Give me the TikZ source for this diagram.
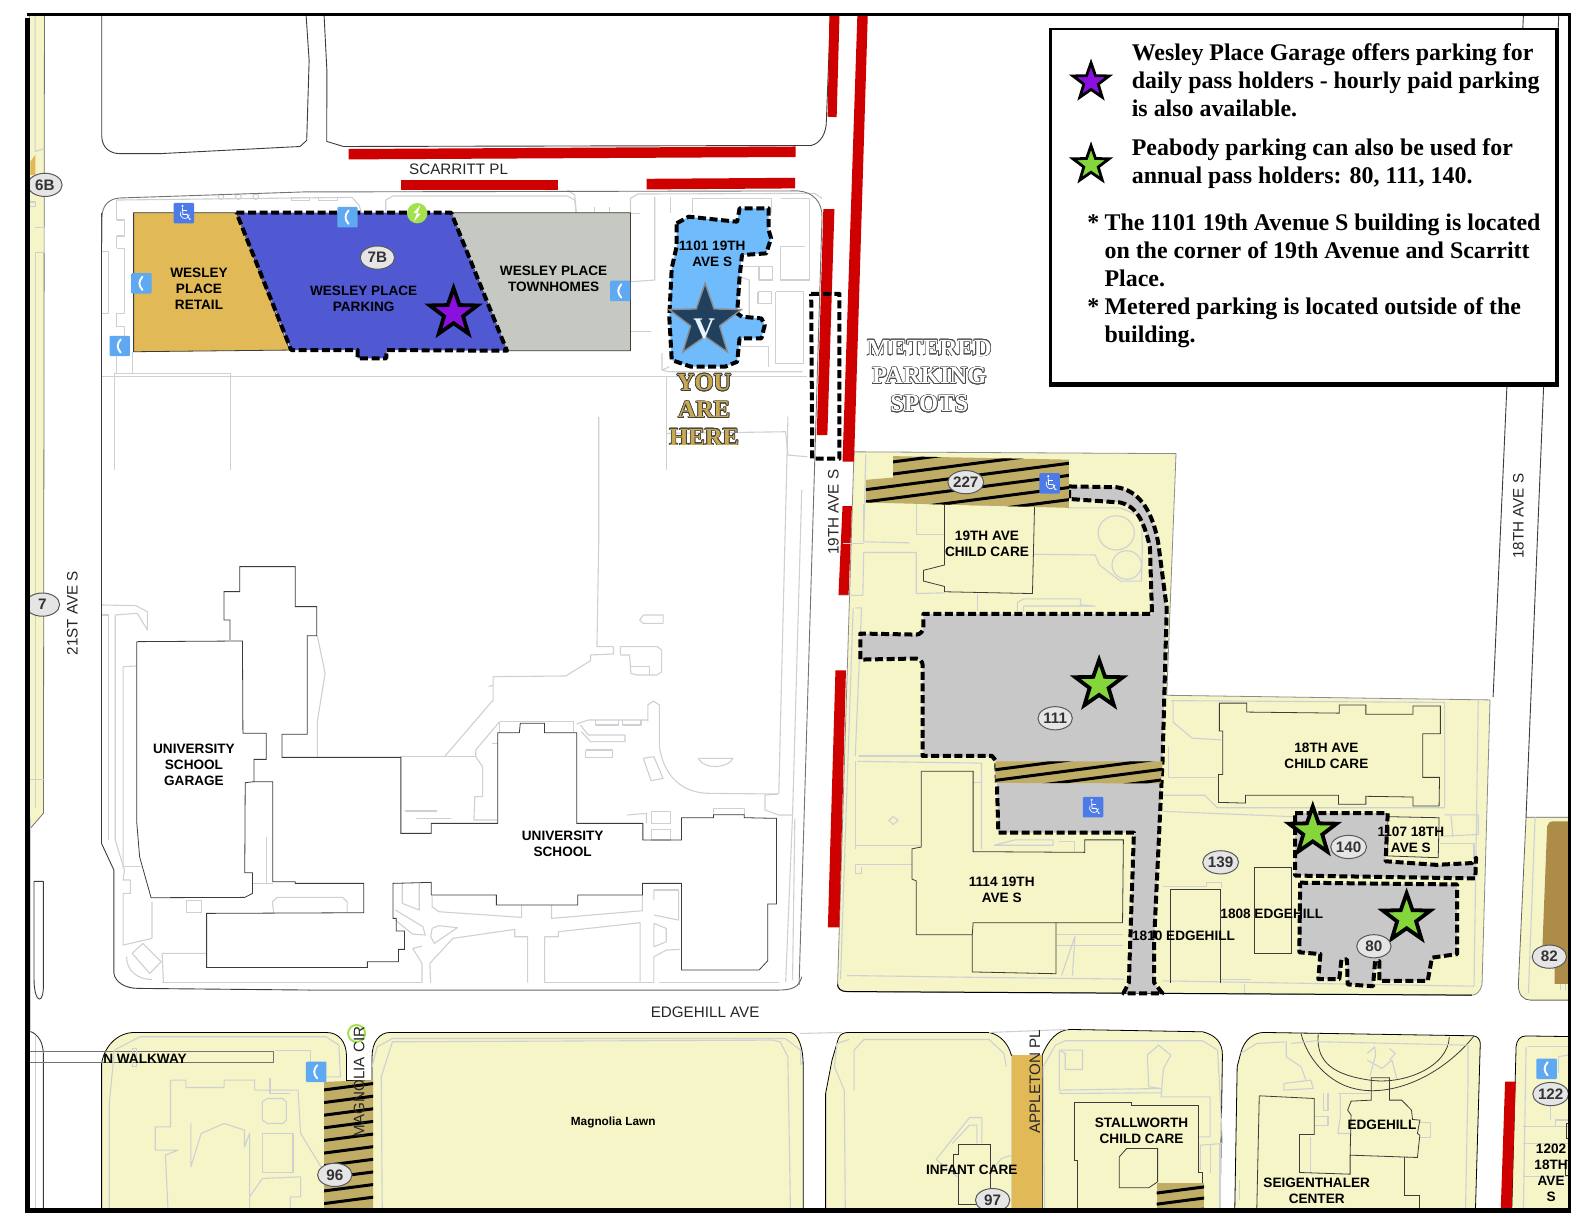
\documentclass[tikz,border=0pt]{standalone}
\usepackage{fontspec}
\usepackage{contour}
\setmainfont{Liberation Sans}
\newfontfamily\lserif{Liberation Serif}
\usetikzlibrary{shapes.geometric}
\definecolor{cream}{HTML}{F5F5C8}
\definecolor{lotgray}{HTML}{C8C8C8}
\definecolor{redbar}{HTML}{CE0000}
\definecolor{tanhatch}{HTML}{BFAD66}
\definecolor{gold}{HTML}{E2B957}
\definecolor{parkblue}{HTML}{5059D2}
\definecolor{townh}{HTML}{C6C9C2}
\definecolor{lightblue}{HTML}{6FBBFB}
\definecolor{navy}{HTML}{21405E}
\definecolor{phoneblue}{HTML}{5FA8F2}
\definecolor{wheelblue}{HTML}{4C7BE8}
\definecolor{boltgreen}{HTML}{A5E04E}
\definecolor{stargreen}{HTML}{84D63A}
\definecolor{starpurple}{HTML}{8A10E0}
\definecolor{lightline}{HTML}{CDD1D4}
\definecolor{darkline}{HTML}{3C3C3C}
\definecolor{brownlot}{HTML}{AD8C4A}
\definecolor{youhere}{HTML}{C8A850}
\tikzset{
 z1/.style={shift={(89.1,168.3)},x=0.24237pt,y=-0.1667pt},
 z2/.style={shift={(821.6,435.6)},x=0.21046pt,y=-0.17848pt},
 z3/.style={shift={(89.1,534.5)},x=0.22959pt,y=-0.1667pt},
 z4/.style={shift={(19.8,990)},x=0.2551pt,y=-0.1667pt},
 z5/.style={shift={(792,990)},x=0.24555pt,y=-0.1667pt},
 z9/.style={shift={(1425.5,772)},x=0.1667pt,y=-0.1667pt},
 lt/.style={draw=lightline,line width=.55pt,line join=round},
 ltthin/.style={draw=lightline,line width=.4pt,line join=round},
 dk/.style={draw=darkline,line width=.4pt,line join=miter},
 edge/.style={draw=darkline,line width=.45pt,line join=round},
 parkdash/.style={draw=black,line width=2pt,dash pattern=on 4pt off 1.8pt,line join=round},
 lbl/.style={font=\bfseries\fontsize{6.8}{8.1}\selectfont,align=center,inner sep=0pt,text=black},
 road/.style={font=\fontsize{7.6}{9}\selectfont,inner sep=0pt,text=black!85},
 oval/.style={ellipse,draw=black!65,line width=.5pt,fill=black!10,minimum width=17.2pt,minimum height=11.6pt,inner sep=0pt,font=\bfseries\fontsize{7.6}{9}\selectfont,text=black!80},
 bigstar/.style={star,star points=5,star point ratio=2.5,draw=black,line width=1.9pt,minimum size=25pt,inner sep=0pt,miter limit=6},
 legstar/.style={star,star points=5,star point ratio=2.5,draw=black,line width=1.4pt,minimum size=19pt,inner sep=0pt,miter limit=6},
 phonebox/.style={fill=phoneblue,minimum size=10.2pt,inner sep=0pt,rounded corners=.5pt},
 wheelbox/.style={fill=wheelblue,minimum size=10.2pt,inner sep=0pt,rounded corners=.5pt},
 legtext/.style={font=\lserif\bfseries\fontsize{11.95}{13.9}\selectfont,align=left,inner sep=0pt,anchor=west,text=black},
 hereword/.style={font=\lserif\bfseries\fontsize{12.3}{14}\selectfont,inner sep=0pt}
}
\newcommand\LL[1]{\draw[lt] plot coordinates {#1};}
\newcommand\TL[1]{\draw[ltthin] plot coordinates {#1};}
\newcommand\DK[1]{\draw[dk] plot coordinates {#1};}
\newcommand\phoneicon[2]{\node[phonebox] (#1) at (#2) {};
 \draw[white,line width=.95pt,line cap=round] ([xshift=.5pt,yshift=3.3pt]#1.center) .. controls ([xshift=-1.5pt,yshift=1pt]#1.center) and ([xshift=-1.5pt,yshift=-1pt]#1.center) .. ([xshift=.5pt,yshift=-3.3pt]#1.center);}
\newcommand\wheelicon[2]{\node[wheelbox] (#1) at (#2) {};
 \begin{scope}[shift={(#1.center)},x=1pt,y=1pt]
 \fill[white] (-.7,3.6) circle (.55);
 \draw[white,line width=.4pt] (-.7,2.8)--(-.5,-.6)--(1.7,-.6)--(2.8,-3.1)--(3.5,-2.9);
 \draw[white,line width=.35pt] (-.6,1.3)--(1.5,1.3);
 \draw[white,line width=.35pt] (-1.5,.8) arc (150:350:2.3);
 \end{scope}}
\newcommand\hatchzone[6]{\begin{scope}\clip plot coordinates {#1} -- cycle;
 \fill[tanhatch] (#2,#4) rectangle (#3,#5);
 \foreach \hy in {#6}{\draw[black,line width=1.5pt] (#2,\hy) -- (#3,{\hy-0.13*(#3-(#2))});}
 \end{scope}}
\begin{document}
\begin{tikzpicture}[x=0.5051pt,y=-0.5051pt]
\useasboundingbox (0,0) rectangle (1568,1211.6);
\fill[white] (0,0) rectangle (1568,1211.6);
\begin{scope}
\clip (27,15) rectangle (1553,1198);
% ---- cream fills
\filldraw[fill=cream,draw=black!55,line width=.4pt] (29,15) -- (44,15) -- (43,805) -- (30,820) -- (29,820) -- cycle;
\fill[gold] (30,173) -- (30,160) -- (35,153) -- (35,173) -- cycle;
\LL{(34.7,15)(34.7,150)(44,147)}
\LL{(29,200)(35,200)(35,204)(29,204)}
\LL{(35,225)(44,225)(44,250)(35,250)(35,800)}
\LL{(29,772)(44,772)}
\begin{scope}[z2]
\filldraw[fill=cream,draw=black!45,line width=.4pt] (57,33) -- (822,38) -- (800,715) -- (1568,728) -- (1549,1526) .. controls (1545,1545) and (1535,1555) .. (1525,1555) -- (40,1545) .. controls (25,1545) and (18,1535) .. (18,1525) -- cycle;
\draw[draw=black,line width=.5pt] (1525,1555) -- (40,1545) .. controls (25,1545) and (18,1535) .. (18,1525);
\end{scope}
\filldraw[fill=cream,draw=black!60,line width=.4pt] (1510.6,809) -- (1503,975) .. controls (1503,985) and (1508,990) .. (1515,990) -- (1560,990) -- (1560,809) -- cycle;
\fill[brownlot] (1531.5,818) .. controls (1532,815) and (1534,813) .. (1538,813) -- (1560,813) -- (1560,974) -- (1539,974) -- (1539,958) -- (1526,958) -- cycle;
\begin{scope}[z9]
\LL{(285,112)(265,640)}
\LL{(360,612)(360,630)}\LL{(375,612)(375,630)}
\end{scope}
\begin{scope}[z4]
\filldraw[fill=cream,draw=black,line width=.4pt] (160,640) -- (160,190) .. controls (165,140) and (190,97) .. (225,97) -- (600,97) .. controls (625,97) and (640,125) .. (640,170) -- (640,241) -- (690,241) -- (690,170) .. controls (690,125) and (705,97) .. (725,97) -- (1510,97) .. controls (1525,100) and (1535,140) .. (1535,195) -- (1535,640) -- cycle;
\end{scope}
\begin{scope}[z5]
\filldraw[fill=cream,draw=black,line width=.4pt] (52,640) -- (52,280) -- (65,180) -- (78,115) .. controls (82,100) and (90,97) .. (100,97) -- (385,97) .. controls (410,105) and (425,135) .. (430,165) -- (432,165) -- (432,640) -- cycle;
\filldraw[fill=cream,draw=black,line width=.4pt] (493,640) -- (493,165) .. controls (505,120) and (525,88) .. (550,88) -- (820,95) .. controls (845,105) and (860,125) .. (860,165) -- (855,640) -- cycle;
\filldraw[fill=cream,draw=black,line width=.4pt] (885,640) -- (890,200) -- (897,160) .. controls (905,115) and (925,97) .. (945,97) -- (1370,107) .. controls (1380,107) and (1385,120) .. (1385,130) -- (1375,640) -- cycle;
\draw[dk] (1020,100) .. controls (1030,160) and (1060,220) .. (1100,250) .. controls (1180,310) and (1300,240) .. (1372,108);
\draw[dk] (1055,103) .. controls (1050,190) and (1090,225) .. (1160,240) .. controls (1230,255) and (1320,200) .. (1322,110);
\end{scope}
\begin{scope}[z9]
\filldraw[fill=cream,draw=black,line width=.4pt] (215,1290) -- (228,800) .. controls (230,780) and (240,768) .. (258,768) -- (400,770) -- (400,1290) -- cycle;
\fill[redbar] (195,905) -- (227,905) -- (215,1290) -- (182,1290) -- cycle;
\LL{(265,800)(385,800)}\LL{(258,800)(250,1285)}\LL{(250,1040)(385,1040)}\LL{(250,1090)(385,1090)}\LL{(250,1190)(385,1190)}
\LL{(345,1040)(345,1020)(385,1020)}\TL{(330,970)(330,1020)}\LL{(355,830)(385,825)}\LL{(355,830)(355,880)}
\DK{(385,1030)(378,1030)(378,1075)(385,1075)}\DK{(385,1140)(375,1140)(375,1185)(385,1185)}
\end{scope}
% ---- street edges
\draw[edge] (100.7,15) -- (100.7,135) .. controls (101,147) and (110,152) .. (118,152) -- (160,152) -- (297,145) -- (303.6,139) -- (306,60) -- (303,15);
\draw[edge] (320.8,15) -- (323.6,70) -- (323.4,140) -- (340,145) -- (803,144) .. controls (812,142) and (818,132) .. (818,120) -- (822,15);
\draw[edge] (1508,15) -- (1478,690);
\draw[edge] (1543,15) -- (1510.6,809);
\draw[edge] (30,1021) .. controls (38,1024) and (43,1032) .. (43,1045) -- (43,1198);
\LL{(35,1025)(35,1198)}
\filldraw[fill=white,edge] (33.7,872.5) -- (43,872.5) -- (43,975) .. controls (43,985) and (41,989) .. (39,989) .. controls (36,989) and (33.7,980) .. (33.7,970) -- cycle;
\LL{(30,810)(30,1020)}
\draw[draw=black!55,line width=.5pt] (30,1041) -- (271,1041) -- (271,1052) -- (30,1052);
% ---- university block
\begin{scope}[z3]
\LL{(1550,-150)(1530,825)(1515,1325)}
\LL{(1535,835)(1530,1320)}
\LL{(1108,-370)(1108,0)(1104,320)(1140,320)(1140,342)(1090,345)(1090,362)(1036,408)(878,410)(878,480)(772,650)}
\LL{(868,440)(878,436)}
\LL{(1155,345)(1175,345)(1178,400)(1190,405)(1235,405)(1245,395)(1245,330)(1235,320)(1155,320)(1155,345)}
\TL{(1178,378)(1218,378)(1218,405)}
\LL{(1205,225)(1248,225)(1248,250)(1205,250)(1197,240)(1205,225)}
\LL{(1215,545)(1215,495)(1227,483)(1240,495)(1240,620)}
\draw[lt] (1240,620) .. controls (1250,710) and (1290,760) .. (1350,760) -- (1498,762);
\LL{(1498,762)(1470,765)(1470,810)(1500,825)(1530,825)}
\LL{(1500,762)(1520,-370)}
\LL{(892,545)(1052,545)(1052,575)}\LL{(892,545)(892,578)}
\LL{(892,545)(840,630)(840,650)(855,680)(855,770)(838,770)(836,840)(886,840)}\LL{(876,610)(888,610)}
\LL{(676,650)(840,650)}
\LL{(495,287)(512,400)(495,545)(495,650)}
\LL{(1060,552)(1085,540)(1215,540)}\LL{(1068,555)(1085,585)(1165,585)(1165,605)(1090,605)(1070,575)}
\LL{(1100,540)(1100,555)(1150,555)(1150,540)}\LL{(1160,540)(1160,555)(1200,555)(1200,540)}
\LL{(1080,630)(1138,630)(1138,652)(1080,652)(1080,630)}
\LL{(1205,655)(1228,650)(1248,715)(1222,722)(1205,655)}
\draw[lt] (1325,655) -- (1400,655) .. controls (1395,680) and (1340,695) .. (1325,655);
\LL{(687,813)(755,813)}\LL{(710,835)(787,835)}
\LL{(1170,825)(1212,820)(1212,850)}\LL{(1222,815)(1265,815)(1265,850)(1222,850)(1222,815)}\LL{(1222,868)(1265,868)(1265,900)(1222,900)(1222,868)}
\LL{(1358,824)(1358,805)(1425,805)(1425,824)}
\LL{(680,1030)(680,1090)(717,1110)(717,1030)}
\LL{(745,1070)(745,1100)(760,1115)(940,1132)(940,1095)}
\LL{(1005,1095)(1005,1135)(1203,1112)(1203,1065)}
\LL{(665,1110)(725,1160)(730,1185)(702,1182)(665,1140)}
\LL{(745,1165)(760,1157)(800,1163)(750,1210)(742,1190)(745,1165)}
\LL{(742,1328)(740,1270)(790,1195)(925,1168)(925,1190)(953,1190)(953,1328)}
\LL{(990,1328)(990,1190)(1020,1190)(1020,1175)(1198,1148)(1198,1328)}
\LL{(1228,1080)(1228,1050)(1282,1050)(1282,1140)(1228,1125)}
\LL{(1228,1150)(1255,1165)(1255,1205)(1228,1220)(1228,1150)}
\LL{(1228,1328)(1228,1250)(1255,1230)(1285,1228)}
\LL{(160,1328)(157,1240)(254,1240)}
\LL{(157,1328)(723,1328)}\LL{(723,1328)(723,1270)(703,1225)(723,1218)}
\LL{(990,1328)(1228,1328)}\LL{(1240,1328)(1500,1328)}
\LL{(25,195)(100,197)(125,215)(125,270)(103,220)(55,225)(55,900)(75,990)(72,1020)(88,1020)(88,1060)(72,1060)(72,1215)(135,1195)(135,1085)}
\LL{(72,985)(72,380)(100,378)}\LL{(72,980)(110,980)}
\LL{(25,225)(40,225)(40,900)}
\LL{(400,1118)(397,1085)(408,1072)(550,1072)(560,1085)(560,1118)}
\LL{(210,1082)(242,1082)(242,1118)(210,1118)(210,1082)}
\LL{(115,1210)(155,1265)(130,1300)(92,1240)(115,1210)}
\draw[lt] (80,1250) .. controls (78,1290) and (105,1320) .. (135,1318);
\LL{(355,1030)(385,1030)(385,890)}\LL{(355,1030)(398,1030)}
\LL{(1228,1050)(1282,1050)}
\LL{(1300,1328)(1455,1328)}
\end{scope}
\begin{scope}[z1]
\LL{(55,90)(540,82)(555,105)(560,128)}
\LL{(610,128)(610,90)(625,78)(985,78)(1000,90)(1003,128)}
\LL{(985,60)(1000,75)(1003,128)}\LL{(1115,130)(1115,85)(1130,72)(1495,70)(1510,85)}
\LL{(55,90)(55,150)}\LL{(55,198)(55,235)}\LL{(55,430)(55,470)}\LL{(55,545)(55,610)}
\LL{(55,150)(72,150)(72,198)(55,198)}\LL{(55,235)(72,235)(72,430)(55,430)}\LL{(55,470)(72,470)(72,545)(55,545)}
\LL{(25,245)(38,245)(38,430)(25,430)}
\LL{(88,545)(88,610)}
\TL{(1115,130)(1135,130)}
\LL{(1165,80)(1165,330)(1115,335)}\LL{(1115,485)(1158,485)}
\LL{(1198,80)(1198,130)}\LL{(1195,590)(1180,600)(1180,550)(1180,600)(1195,605)(1470,605)}
\LL{(25,618)(1480,618)}
\LL{(50,610)(290,610)(290,900)}\LL{(50,610)(50,900)}
\LL{(1190,620)(1190,900)}\LL{(1190,790)(1435,785)(1440,855)(1480,860)}
\LL{(1243,85)(1243,130)}\LL{(1425,85)(1485,85)(1485,330)(1425,330)(1425,230)(1475,230)}
\LL{(1243,85)(1405,85)(1405,130)}
\LL{(1345,290)(1408,290)(1408,330)(1380,330)(1380,290)}
\LL{(1378,365)(1405,365)(1405,400)(1378,400)(1378,365)}
\LL{(1415,365)(1472,365)(1472,580)(1415,580)(1415,365)}
\LL{(1340,320)(1360,330)(1360,440)}
\LL{(1340,530)(1400,530)(1400,590)}
\draw[lt] (270,80) ellipse (6 and 8);\draw[lt] (306,80) ellipse (6 and 8);\draw[lt] (342,80) ellipse (6 and 8);
\LL{(415,82)(452,82)(452,92)(415,92)(415,82)}\LL{(472,82)(510,82)(510,92)(472,92)(472,82)}
\LL{(1040,128)(1040,112)}\LL{(1072,128)(1072,112)}
\end{scope}
% ---- outer outline of west block
\begin{scope}[z3]
\draw[edge] (25,-980) -- (25,910) -- (52,990) -- (52,1300) .. controls (55,1325) and (75,1345) .. (105,1345) -- (480,1350);
\draw[black!60,line width=.45pt] (480,1350) -- (1500,1350) .. controls (1530,1350) and (1545,1340) .. (1550,1310);
\end{scope}
\draw[draw=black!55,line width=.45pt] (101,240) -- (101,215) .. controls (101,203) and (108,197) .. (118,196) -- (300,190) -- (790,189) .. controls (805,190) and (814,200) .. (813.7,215) -- (791,975);
% ---- red bars
\fill[redbar] (345,147.5) -- (787.6,145) -- (787.6,155.4) -- (345,157.8) -- cycle;
\fill[redbar] (396.7,178) -- (552,178) -- (552,188) -- (396.7,188) -- cycle;
\fill[redbar] (640,177) -- (787,176) -- (787,186.5) -- (640,187.5) -- cycle;
\fill[redbar] (821,15) -- (831,15) -- (828.2,116) -- (819.3,115.5) -- cycle;
\fill[redbar] (848.7,15) -- (859,15) -- (845.4,457) -- (834,457) -- cycle;
\fill[redbar] (815,207) -- (826,207) -- (819,430.7) -- (808.5,430.7) -- cycle;
\fill[redbar] (834,501) -- (843.3,501) -- (840,589) -- (830,589) -- cycle;
\fill[redbar] (827,663.5) -- (837.4,663.5) -- (830.8,918) -- (819.5,918) -- cycle;
% ---- Peabody block details
\begin{scope}[z2]
\LL{(85,40)(80,285)(190,288)}\LL{(205,180)(205,265)(272,265)}\LL{(80,315)(205,315)(205,430)(272,428)}
\LL{(80,180)(80,285)}\LL{(80,315)(78,435)(22,435)}\LL{(30,290)(80,290)}
\LL{(485,320)(630,322)(640,350)(690,395)(740,395)(742,300)(740,215)(690,190)(566,190)}
\draw[lt] (680,260) ellipse (43 and 48);\draw[lt] (705,350) ellipse (35 and 40);
\LL{(350,430)(350,480)}\LL{(445,480)(445,455)(460,445)(595,445)(595,462)(630,465)(460,465)(460,480)}
\LL{(60,470)(75,470)(60,885)}\LL{(70,885)(390,885)}\LL{(65,900)(360,905)(360,1145)}\LL{(340,960)(360,960)}
\LL{(60,1135)(215,1135)}\LL{(60,900)(60,1145)}\LL{(60,1190)(195,1190)}\LL{(60,1190)(60,1215)(75,1215)(75,1195)}
\LL{(150,1055)(162,1065)(150,1077)(140,1065)(150,1055)}
\LL{(390,1135)(440,1120)(530,1120)(530,1135)(390,1135)}\LL{(545,1125)(580,1125)(580,1155)}
\LL{(540,1385)(695,1385)}\LL{(540,1415)(695,1415)}\LL{(550,1500)(582,1390)(576,1500)}
\LL{(40,1500)(338,1505)(700,1510)}\LL{(55,470)(25,1510)}\LL{(790,1515)(1530,1530)}\LL{(985,1525)(985,1550)}
\LL{(810,730)(1460,735)(1460,1030)}\LL{(815,730)(815,790)(860,835)(930,840)}
\LL{(805,860)(805,945)(920,945)}\LL{(790,995)(890,995)(920,1030)(1460,1030)}\LL{(790,1040)(1100,1055)}
\LL{(1460,1050)(1540,1050)(1540,1105)(1450,1110)}\LL{(1450,1130)(1530,1130)(1530,1170)}\LL{(1475,1050)(1480,1110)}
\LL{(1540,730)(1530,1530)}
\LL{(790,1250)(895,1250)(895,1240)(930,1240)(930,1255)}
\LL{(930,1510)(1000,1510)}
\end{scope}
% ---- lower row light details
\begin{scope}[z4]
\LL{(175,625)(175,310)(185,150)(235,110)(600,110)(625,135)(628,230)(560,230)}
\LL{(500,150)(570,150)(570,235)}
\LL{(295,240)(295,380)(265,380)(265,450)(310,450)(285,465)(290,625)}
\LL{(295,240)(325,240)(325,262)(400,262)(400,240)(460,240)(460,270)(545,270)(550,400)(590,500)}
\LL{(490,235)(490,280)(530,280)}
\LL{(485,295)(515,295)(522,305)(522,360)(515,370)(485,370)(475,360)(475,305)(485,295)}
\LL{(475,400)(535,400)(535,518)(475,518)(475,400)}
\LL{(335,370)(335,500)(355,400)(400,370)(440,390)(440,440)(450,400)(450,625)}
\LL{(475,535)(550,530)(550,590)(530,590)(530,625)}\LL{(450,590)(475,535)}
\LL{(220,145)(228,145)(228,200)(220,200)(220,145)}
\LL{(710,625)(708,230)(730,125)(1475,120)(1490,125)(1505,170)(1510,625)}
\LL{(690,200)(700,140)(730,115)(1470,115)(1500,115)(1530,150)(1530,195)}
\end{scope}
\begin{scope}[z5]
\LL{(92,625)(90,270)(70,200)(75,130)(100,118)}\LL{(110,270)(110,150)(130,118)(385,118)(415,160)(420,200)}
\LL{(277,478)(345,352)(370,352)(370,430)}\LL{(277,478)(320,530)}\LL{(310,430)(345,375)(360,375)(360,430)}
\LL{(390,510)(410,475)(432,465)}
\LL{(385,97)(545,88)}\LL{(0,100)(85,97)}
\LL{(498,625)(495,200)(520,135)(540,122)(820,122)(850,150)(855,280)(860,430)(815,435)(815,510)}
\LL{(528,150)(575,150)(575,208)(540,208)(540,160)(528,150)}\LL{(528,150)(528,270)(735,265)(710,260)(707,165)(730,135)(755,165)(740,205)(735,290)(835,290)(835,410)(810,410)}
\LL{(528,275)(530,280)(735,278)}
\LL{(855,430)(855,625)}\LL{(835,435)(835,520)}
\LL{(897,160)(930,130)(990,125)(990,170)(1020,200)(1030,240)}\LL{(985,250)(1040,240)(1045,265)(985,270)(985,250)}
\LL{(1000,130)(1050,122)(1060,125)(1360,135)(1360,250)(1355,625)}
\LL{(1075,280)(1075,330)(1065,330)(1065,280)}\LL{(1100,280)(1100,350)(1095,400)(1120,400)}
\LL{(1047,350)(1075,350)(1075,375)(1047,375)}\LL{(1040,410)(1040,517)}
\LL{(1262,368)(1283,368)(1283,412)(1262,412)}
\LL{(1155,160)(1170,140)(1172,165)(1160,230)}\LL{(1155,180)(1185,205)(1205,180)(1215,235)}\LL{(1200,145)(1212,160)(1200,180)}
\LL{(1095,280)(1160,280)}
\LL{(895,600)(895,540)}
\end{scope}
% ---- Dark building outlines
\begin{scope}[z3]
\DK{(102,305)(332,303)(333,580)(384,580)(384,658)(357,658)(357,725)(338,728)(337,998)(354,998)(354,1060)(337,1072)(133,1073)(108,950)(102,850)(102,305)}
\DK{(305,300)(305,240)(292,240)(292,155)(326,155)(326,80)(447,80)(447,200)(494,200)(494,287)(473,287)(473,583)(418,583)(418,652)(677,652)(677,880)(743,880)(743,850)(888,850)(888,578)(935,578)(937,550)(990,550)(990,578)(1060,578)(1060,850)(1204,850)(1204,900)(1288,900)(1288,833)(1358,833)(1358,824)(1425,824)(1425,833)(1495,835)(1495,1092)(1476,1092)(1476,1262)(1457,1290)(1288,1290)(1288,1030)(1203,1030)(1203,1065)(1062,1065)(1062,1095)(885,1095)(885,1065)(743,1065)(743,1027)(660,1030)(660,1135)(667,1135)(667,1173)(685,1173)(685,1228)(672,1228)(672,1265)(604,1265)(604,1282)(254,1282)(254,1120)(596,1118)(596,1030)(447,1030)(447,1025)(398,1025)(398,725)(357,725)}
\end{scope}
\begin{scope}[z2]
\DK{(272,180)(486,183)(481,430)(272,425)(272,410)(222,395)(222,365)(272,350)(272,180)}
\DK{(925,737)(990,737)(990,762)(1210,765)(1210,742)(1273,742)(1273,768)(1385,768)(1385,745)(1450,745)(1450,823)(1408,823)(1408,945)(1448,945)(1447,1025)(1385,1025)(1385,1000)(1273,998)(1273,1020)(1208,1020)(1208,995)(987,995)(987,1017)(923,1015)(923,937)(933,937)(933,815)(925,815)(925,737)}
\DK{(217,928)(340,928)(340,1153)(605,1155)(605,1120)(697,1120)(695,1352)(340,1352)(338,1386)(205,1386)(205,1235)(195,1230)(195,1145)(217,1140)(217,928)}
\DK{(338,1386)(338,1490)(537,1495)(537,1352)}
\DK{(808,1520)(808,1258)(928,1258)(928,1520)}
\DK{(1008,1197)(1095,1197)(1095,1437)(1008,1437)(1008,1197)}
\DK{(1325,1055)(1447,1058)(1445,1170)(1325,1165)(1325,1055)}
\end{scope}
\begin{scope}[z5]
\DK{(322,432)(387,432)(387,612)(322,612)(322,520)(313,520)(313,462)(322,462)(322,432)}
\DK{(565,625)(565,482)(558,482)(558,307)(675,307)(675,317)(812,317)(812,517)(820,517)(820,625)}
\DK{(650,470)(665,445)(728,445)(728,545)(710,563)(650,563)(650,470)}
\DK{(1122,303)(1163,300)(1163,233)(1200,233)(1200,300)(1225,300)(1245,330)(1247,358)(1262,360)(1257,400)(1262,405)(1257,472)(1120,465)(1122,345)(1115,330)(1122,303)}
\DK{(935,287)(1047,295)(1047,403)(1017,403)(1017,517)(1120,522)(1120,465)}
\DK{(935,287)(930,625)}\DK{(1230,472)(1230,585)(1262,585)(1262,625)}
\end{scope}
% ---- hatched lots and road strips
\hatchzone{(320.8,1071)(369.3,1069)(369.3,1198)(320.8,1198)}{320}{370}{1060}{1200}{1079,1091.5,1104,1116.5,1129,1141.5,1154,1166.5,1179,1191.5,1204}
\fill[gold] (1002,1044.5) -- (1031.7,1044.5) -- (1031.7,1198) -- (1002,1198) -- cycle;
\hatchzone{(1145,1172)(1192,1172)(1192,1198)(1145,1198)}{1145}{1192}{1170}{1200}{1181,1192,1203}
\begin{scope}[z2]
\filldraw[fill=lotgray,parkdash] (568,130) -- (680,132) .. controls (730,140) and (765,190) .. (780,290) -- (800,470) -- (790,900) -- (770,1400) -- (770,1520) -- (790,1550) -- (697,1550) -- (710,1520) -- (722,1100) -- (400,1100) -- (395,900) -- (385,885) -- (220,885) -- (220,630) .. controls (220,620) and (212,612) .. (205,612) -- (72,615) -- (72,542) -- (205,545) .. controls (214,545) and (222,535) .. (222,525) -- (222,487) -- (765,487) -- (760,300) .. controls (745,220) and (725,185) .. (690,175) -- (568,165) -- cycle;
\filldraw[fill=lotgray,parkdash] (1105,1045) -- (1325,1045) -- (1320,1180) -- (1440,1190) -- (1525,1185) -- (1535,1170) -- (1533,1228) -- (1105,1220) -- cycle;
\filldraw[fill=lotgray,parkdash] (1117,1240) -- (1490,1245) -- (1490,1440) -- (1430,1450) -- (1420,1515) -- (1305,1515) -- (1305,1460) -- (1295,1460) -- (1290,1530) -- (1230,1525) -- (1228,1455) -- (1215,1455) -- (1210,1510) -- (1160,1510) -- (1165,1440) -- (1115,1435) -- cycle;
\end{scope}
\hatchzone{(884,451.5)(1058,455)(1058,502.7)(857,497.4)(857,475)(884,472.7)}{855}{1060}{445}{505}{461,473,485,497,509,521,533}
\hatchzone{(985.3,753.6)(1150.8,753.6)(1148.7,775.5)(985.3,775)}{985}{1152}{750}{778}{762,772.5,783,793.5}
% ---- Wesley place
\begin{scope}[z1]
\filldraw[fill=gold,draw=darkline,line width=.4pt] (90,128) -- (302,128) -- (412,540) -- (90,545) -- cycle;
\filldraw[fill=townh,draw=darkline,line width=.4pt] (745,128) -- (1115,128) -- (1115,542) -- (860,542) -- cycle;
\filldraw[fill=parkblue,parkdash] (302,128) -- (745,128) -- (860,542) -- (612,540) -- (611,565) -- (552,565) -- (552,540) -- (415,540) -- cycle;
\filldraw[fill=lightblue,parkdash] (1210,160) -- (1235,140) -- (1300,150) -- (1335,155) -- (1340,115) -- (1400,115) -- (1400,180) -- (1405,205) -- (1395,250) -- (1345,255) -- (1340,320) -- (1335,430) -- (1345,440) -- (1385,445) -- (1392,465) -- (1385,505) -- (1340,505) -- (1335,575) -- (1310,590) -- (1240,590) -- (1200,570) -- (1195,440) -- (1200,295) -- (1210,230) -- cycle;
\end{scope}
\draw[parkdash] (803,291) -- (831,291) -- (831,454) -- (804,454) -- cycle;
% ---- icons
\wheelicon{wA}{182,211}
\wheelicon{wB}{1039,478.5}
\wheelicon{wC}{1082,799}
\phoneicon{phA}{344,215}
\phoneicon{phB}{140,280.5}
\phoneicon{phC}{118.5,342.5}
\phoneicon{phD}{614,288}
\phoneicon{phE}{313,1061}
\phoneicon{phF}{1531,1058}
\node[circle,fill=boltgreen,minimum size=10.2pt,inner sep=0pt] (bolt) at (413,211) {};
\fill[white] ([xshift=1.6pt,yshift=4pt]bolt.center) -- ([xshift=-1.8pt,yshift=.2pt]bolt.center) -- ([xshift=-.1pt,yshift=.2pt]bolt.center) -- ([xshift=-1.6pt,yshift=-4pt]bolt.center) -- ([xshift=1.8pt,yshift=-.2pt]bolt.center) -- ([xshift=.1pt,yshift=-.2pt]bolt.center) -- cycle;
\node[circle,draw=boltgreen,line width=1pt,fill=white,minimum size=8.5pt,inner sep=0pt] (boltB) at (353,1023) {};
% ---- stars
\node[star,star points=5,star point ratio=2.5,fill=navy,draw=black!45,line width=.7pt,minimum size=38pt,inner sep=0pt] (vstar) at (698,318) {};
\node[font=\lserif\bfseries\fontsize{15}{15}\selectfont,text=white!85!lightblue,inner sep=0pt] (vletter) at (697,326) {V};
\node[bigstar,fill=starpurple] (sA) at (449,310) {};
\node[bigstar,fill=stargreen] (sB) at (1088,678) {};
\node[bigstar,fill=stargreen] (sC) at (1299.5,823) {};
\node[bigstar,fill=stargreen] (sD) at (1392.4,909) {};
% ---- ovals
\node[oval] (o6B) at (44.5,183) {6B};
\node[oval] (o7) at (42,598.5) {7};
\node[oval] (o7B) at (373.6,255) {7B};
\node[oval] (o227) at (956,477.3) {227};
\node[oval] (o111) at (1044.5,711) {111};
\node[oval] (o139) at (1208.3,853.6) {139};
\node[oval] (o140) at (1335,838.4) {140};
\node[oval] (o80) at (1360,936.7) {80};
\node[oval] (o82) at (1533.7,947) {82};
\node[oval] (o96) at (331.4,1163) {96};
\node[oval] (o97) at (982.6,1188) {97};
\node[oval] (o122) at (1535,1083) {122};
% ---- labels
\node[lbl] (tRetail) at (197,286) {WESLEY\\PLACE\\RETAIL};
\node[lbl] (tPark) at (360,296) {WESLEY PLACE\\PARKING};
\node[lbl] (tTown) at (548,276) {WESLEY PLACE\\TOWNHOMES};
\node[lbl] (t1101) at (705,251) {1101 19TH\\AVE S};
\node[lbl] (tGarage) at (192,757) {UNIVERSITY\\SCHOOL\\GARAGE};
\node[lbl] (tSchool) at (557,835) {UNIVERSITY\\SCHOOL};
\node[lbl] (t19cc) at (977,538) {19TH AVE\\CHILD CARE};
\node[lbl] (t18cc) at (1313,748) {18TH AVE\\CHILD CARE};
\node[lbl] (t1114) at (991.6,881) {1114 19TH\\AVE S};
\node[lbl] (t1810) at (1171.6,926.8) {1810 EDGEHILL};
\node[lbl] (t1808) at (1259,905) {1808 EDGEHILL};
\node[lbl] (t1107) at (1396.6,831) {1107 18TH\\AVE S};
\node[lbl] (tWalk) at (143.5,1047.8) {N WALKWAY};
\node[lbl,font=\bfseries\fontsize{5.9}{7}\selectfont] (tLawn) at (607,1111) {Magnolia Lawn};
\node[lbl] (tInfant) at (962,1158) {INFANT CARE};
\node[lbl] (tStall) at (1130,1119.7) {STALLWORTH\\CHILD CARE};
\node[lbl] (tEdge) at (1368,1113.8) {EDGEHILL};
\node[lbl] (tSeig) at (1303.4,1179) {SEIGENTHALER\\CENTER};
\node[lbl] (t1202) at (1535.4,1161) {1202\\18TH\\AVE\\S};
\node[road] (rScar) at (454,168) {SCARRITT PL};
\node[road] (rEdge) at (698,1002) {EDGEHILL AVE};
\node[road,rotate=90] (r21) at (71.6,607) {21ST AVE S};
\node[road,rotate=90] (r19) at (825,507) {19TH AVE S};
\node[road,rotate=90] (r18) at (1503,511) {18TH AVE S};
\node[road,rotate=90] (rMag) at (355.6,1071) {MAGNOLIA CIR};
\node[road,rotate=90] (rApp) at (1024.4,1071) {APPLETON PL};
% ---- Here / metered words
\contourlength{.35pt}
\node[hereword] (hYou) at (697,379) {\color{youhere}\contour{black!75}{YOU}};
\node[hereword] (hAre) at (697,406) {\color{youhere}\contour{black!75}{ARE}};
\node[hereword] (hHere) at (697,433) {\color{youhere}\contour{black!75}{HERE}};
\node[hereword] (mA) at (920,345) {\color{white}\contour{black!70}{METERED}};
\node[hereword] (mB) at (920,372.5) {\color{white}\contour{black!70}{PARKING}};
\node[hereword] (mC) at (920,400) {\color{white}\contour{black!70}{SPOTS}};
\end{scope}
% ---- frame
\fill[black] (27,13) rectangle (1555,15.5);
\fill[black] (24.4,18) rectangle (29.7,1201);
\fill[black] (1552.6,13) rectangle (1555,1201);
\fill[black] (24.4,1196) rectangle (1555,1201);
% ---- legend box
\fill[black] (1038,28) rectangle (1543,383);
\fill[white] (1041.5,30) rectangle (1539,378.5);
\node[legstar,fill=starpurple] (lsA) at (1080,81) {};
\node[legstar,fill=stargreen] (lsB) at (1080,163) {};
\node[legtext] (legA) at (1120,79.5) {Wesley Place Garage offers parking for\\daily pass holders - hourly paid parking\\is also available.};
\node[legtext] (legB) at (1120,162) {Peabody parking can also be used for\\annual pass holders: 80, 111, 140.};
\node[legtext] (legC) at (1076,278) {\makebox[8.6pt][l]{*}The 1101 19th Avenue S building is located\\\hspace*{8.6pt}on the corner of 19th Avenue and Scarritt\\\hspace*{8.6pt}Place.\\\makebox[8.6pt][l]{*}Metered parking is located outside of the\\\hspace*{8.6pt}building.};
\end{tikzpicture}
\end{document}
